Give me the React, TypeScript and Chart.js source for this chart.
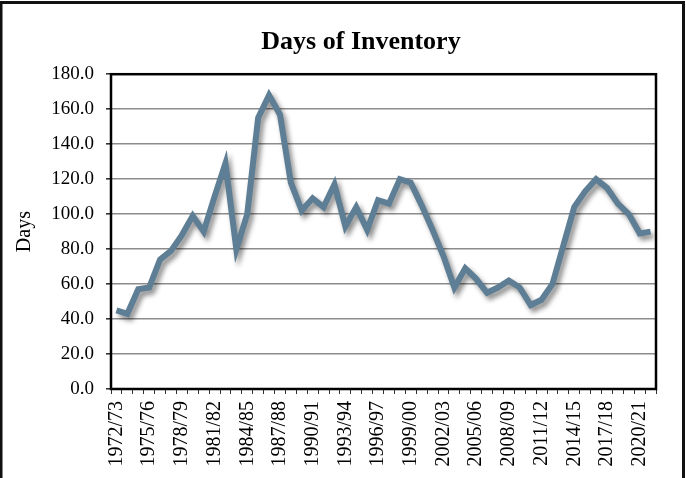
import React, { useEffect, useRef } from "react";
import { Chart, registerables } from "chart.js";

Chart.register(...registerables);

const chartTitle = "Days of Inventory";
const yAxisTitle = "Days";

const seasons = [
  "1972/73", "1973/74", "1974/75", "1975/76", "1976/77", "1977/78", "1978/79", "1979/80",
  "1980/81", "1981/82", "1982/83", "1983/84", "1984/85", "1985/86", "1986/87", "1987/88",
  "1988/89", "1989/90", "1990/91", "1991/92", "1992/93", "1993/94", "1994/95", "1995/96",
  "1996/97", "1997/98", "1998/99", "1999/00", "2000/01", "2001/02", "2002/03", "2003/04",
  "2004/05", "2005/06", "2006/07", "2007/08", "2008/09", "2009/10", "2010/11", "2011/12",
  "2012/13", "2013/14", "2014/15", "2015/16", "2016/17", "2017/18", "2018/19", "2019/20",
  "2020/21", "2021/22",
];

const daysOfInventory = [
  45, 43, 57, 58, 74, 79, 88, 99,
  90, 110, 129, 80, 100, 155, 168, 157,
  118, 102, 109, 104, 117, 93, 104, 91,
  108, 106, 120, 118, 105, 91, 76, 58,
  69, 63, 55, 58, 62, 58, 48, 51,
  60, 82, 104, 113, 120, 115, 106, 100,
  89, 90,
];

const yMin = 0;
const yMax = 180;
const yStep = 20;

const shadowPlugin = {
  id: "lineShadow",
  beforeDatasetsDraw(chart: any) {
    const ctx = chart.ctx;
    ctx.save();
    ctx.shadowColor = "rgba(0,0,0,0.45)";
    ctx.shadowBlur = 5;
    ctx.shadowOffsetX = 3;
    ctx.shadowOffsetY = 4;
  },
  afterDatasetsDraw(chart: any) {
    chart.ctx.restore();
  },
};

const titleShiftPlugin = {
  id: "titleShift",
  afterLayout(chart: any) {
    const t = chart.titleBlock;
    if (t) {
      t.left += 33;
      t.right += 33;
    }
  },
};

const framePlugin = {
  id: "frame",
  beforeDraw(chart: any) {
    const ctx = chart.ctx;
    ctx.save();
    ctx.fillStyle = "#ffffff";
    ctx.fillRect(0, 0, chart.width, chart.height);
    ctx.restore();
  },
  afterDraw(chart: any) {
    const ctx = chart.ctx;
    const a = chart.chartArea;
    ctx.save();
    ctx.strokeStyle = "#000000";
    ctx.lineWidth = 2.5;
    ctx.strokeRect(a.left, a.top, a.right - a.left, a.bottom - a.top);
    ctx.lineWidth = 3;
    ctx.strokeStyle = "#111111";
    ctx.beginPath();
    ctx.moveTo(1, chart.height + 5);
    ctx.lineTo(1, 2.5);
    ctx.lineTo(683.5, 2.5);
    ctx.lineTo(683.5, chart.height + 5);
    ctx.stroke();
    ctx.restore();
  },
};

export default function App() {
  const ref = useRef<HTMLCanvasElement | null>(null);

  useEffect(() => {
    if (!ref.current) return;
    Chart.defaults.font.family = "'Liberation Serif', 'Times New Roman', serif";
    Chart.defaults.color = "#000000";
    const chart = new Chart(ref.current, {
      type: "line",
      data: {
        labels: seasons,
        datasets: [
          {
            label: chartTitle,
            data: daysOfInventory,
            borderColor: "#5D7E94",
            backgroundColor: "#5D7E94",
            borderWidth: 6,
            pointRadius: 0,
            tension: 0,
            fill: false,
          },
        ],
      },
      options: {
        responsive: false,
        animation: false,
        devicePixelRatio: 1,
        layout: { padding: { left: 0, right: 30, top: 0, bottom: 0 } },
        plugins: {
          legend: { display: false },
          tooltip: { enabled: false },
          title: {
            display: true,
            text: chartTitle,
            color: "#000000",
            font: { size: 26, weight: "bold" },
            padding: { top: 27, bottom: 16 },
          },
        },
        scales: {
          x: {
            type: "category",
            offset: true,
            grid: {
              offset: true,
              drawOnChartArea: false,
              drawTicks: true,
              tickLength: 5,
              tickColor: "#333333",
              lineWidth: 1,
            },
            border: { display: true, color: "#000000", width: 2 },
            ticks: {
              autoSkip: false,
              minRotation: 90,
              maxRotation: 90,
              padding: 7,
              font: { size: 20 },
              color: "#000000",
              callback: (_v: any, i: number) => (i % 3 === 0 ? seasons[i] : ""),
            },
            afterFit: (scale: any) => {
              scale.height = 89;
            },
          },
          y: {
            min: yMin,
            max: yMax,
            grid: {
              color: "#8c8c8c",
              lineWidth: 1.6,
              drawTicks: true,
              tickLength: 5,
              tickColor: "#333333",
            },
            border: { display: true, color: "#000000", width: 2 },
            ticks: {
              stepSize: yStep,
              padding: 12,
              font: { size: 19 },
              color: "#000000",
              callback: (v: any) => Number(v).toFixed(1),
            },
            title: {
              display: true,
              text: yAxisTitle,
              color: "#000000",
              font: { size: 20 },
              padding: { top: 13, bottom: 0 },
            },
            afterFit: (scale: any) => {
              scale.width = 111;
            },
          },
        },
      },
      plugins: [framePlugin, shadowPlugin, titleShiftPlugin],
    });
    return () => chart.destroy();
  }, []);

  return (
    <div style={{ position: "fixed", left: 0, top: 0, width: 686, height: 478, background: "#fff" }}>
      <canvas ref={ref} width={686} height={478} />
    </div>
  );
}
